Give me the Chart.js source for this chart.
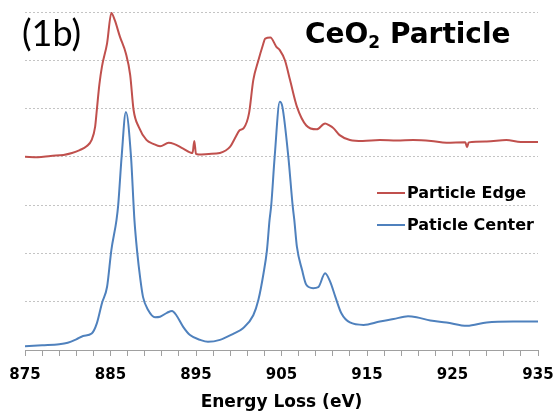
<!DOCTYPE html>
<html>
<head>
<meta charset="utf-8">
<script src="https://cdn.jsdelivr.net/npm/chart.js@4.4.1/dist/chart.umd.min.js"></script>
<style>
  body { margin: 0; background: #fff; }
  #wrap { width: 559px; height: 412px; position: relative; }
</style>
</head>
<body>
<div id="wrap"><canvas id="eels"></canvas></div>
<script>
// energy loss (eV) and intensity (in grid units)
const edgeEnergy = [875, 876.5, 878, 879.5, 880.5, 881.4, 882.2, 882.8, 883.2, 883.4,
  883.7, 884.0, 884.6, 885.1, 885.5, 886.1, 886.8, 887.3, 887.7, 888.3,
  889.2, 890.0, 890.8, 891.8, 892.4, 893.5, 894.6, 894.8, 895.0, 895.3,
  896.5, 897.8, 899.0, 899.6, 900.1, 900.6, 901.2, 901.7, 902.3, 902.8,
  903.1, 903.7, 904.4, 904.8, 905.4, 906.0, 906.8, 907.9, 909.1, 910.1,
  910.6, 911.1, 911.8, 913.0, 914.5, 916.5, 918.5, 920.4, 922.5, 924.3,
  926.5, 926.7, 926.9, 929.0, 931.3, 933.0, 935]
const edgeIntensity = [4.00, 3.99, 4.02, 4.04, 4.08, 4.14, 4.22, 4.35, 4.62, 4.97,
  5.50, 5.87, 6.35, 6.98, 6.83, 6.49, 6.14, 5.70, 4.97, 4.62,
  4.35, 4.27, 4.22, 4.29, 4.27, 4.17, 4.08, 4.33, 4.06, 4.05,
  4.06, 4.08, 4.21, 4.40, 4.55, 4.60, 4.90, 5.59, 6.00, 6.30,
  6.45, 6.47, 6.28, 6.21, 6.00, 5.59, 5.04, 4.65, 4.57, 4.69,
  4.65, 4.59, 4.45, 4.35, 4.33, 4.35, 4.34, 4.35, 4.33, 4.29,
  4.30, 4.20, 4.30, 4.32, 4.35, 4.31, 4.31]

const centerEnergy = [875, 877, 879, 880, 881, 881.8, 882.8, 883.4, 884.0, 884.6,
  885.1, 885.7, 885.9, 886.3, 886.8, 887.4, 887.7, 887.8, 888.1, 888.5,
  888.8, 889.4, 890.2, 890.8, 891.6, 892.2, 892.7, 893.5, 894.3, 895.5,
  896.4, 897.8, 899.4, 900.5, 901.7, 902.3, 902.9, 903.3, 903.6, 903.8,
  904.2, 904.8, 905.1, 905.8, 906.3, 906.5, 906.8, 907.4, 907.9, 908.7,
  909.3, 910.1, 910.7, 911.3, 912.0, 913.0, 914.6, 916.5, 918.1, 919.8,
  920.8, 922.4, 924.3, 926.7, 929.0, 932.1, 935]
const centerIntensity = [0.08, 0.10, 0.12, 0.15, 0.22, 0.29, 0.34, 0.55, 0.97, 1.31,
  2.07, 2.69, 3.00, 4.00, 4.93, 4.00, 3.00, 2.69, 2.07, 1.45,
  1.10, 0.83, 0.68, 0.69, 0.77, 0.81, 0.72, 0.48, 0.31, 0.21,
  0.17, 0.21, 0.34, 0.45, 0.72, 1.04, 1.59, 2.07, 2.69, 3.00,
  4.00, 5.14, 5.04, 4.00, 3.00, 2.69, 2.14, 1.66, 1.35, 1.28,
  1.30, 1.59, 1.41, 1.10, 0.76, 0.57, 0.52, 0.59, 0.64, 0.70,
  0.68, 0.61, 0.57, 0.50, 0.57, 0.59, 0.59]

const xTickLabels = [875, 885, 895, 905, 915, 925, 935]
const seriesNames = ["Particle Edge", "Paticle Center"]
const seriesColors = ["#c0504d", "#4f81bd"]

const boldFont = "DejaVu Sans"

// panel tag, title and the legend drawn inside the plot
const overlayText = {
  id: 'overlayText',
  afterDraw(chart) {
    const ctx = chart.ctx
    ctx.save()
    ctx.fillStyle = '#000'
    ctx.textBaseline = 'alphabetic'
    ctx.font = '36px Lato'
    ctx.fillText('(1b)', 22, 46)

    let x = 305
    ctx.font = 'bold 28px "' + boldFont + '"'
    ctx.fillText('CeO', x, 43)
    x += ctx.measureText('CeO').width
    ctx.font = 'bold 17px "' + boldFont + '"'
    ctx.fillText('2', x, 48)
    x += ctx.measureText('2').width
    ctx.font = 'bold 28px "' + boldFont + '"'
    ctx.fillText(' Particle', x, 43)

    ctx.font = 'bold 16px "' + boldFont + '"'
    ctx.textBaseline = 'middle'
    chart.data.datasets.forEach((ds, i) => {
      const y = 193 + i * 32
      ctx.strokeStyle = ds.borderColor
      ctx.lineWidth = 2
      ctx.beginPath()
      ctx.moveTo(377, y)
      ctx.lineTo(405, y)
      ctx.stroke()
      ctx.fillText(ds.label, 407, y + 1)
    })
    ctx.restore()
  }
}

function drawSpectra() {
  const toPoints = (xs, ys) => xs.map((e, i) => ({ x: e, y: ys[i] }))

  new Chart(document.getElementById('eels'), {
    type: 'line',
    data: {
      datasets: [
        { label: seriesNames[0], data: toPoints(edgeEnergy, edgeIntensity), borderColor: seriesColors[0] },
        { label: seriesNames[1], data: toPoints(centerEnergy, centerIntensity), borderColor: seriesColors[1] }
      ]
    },
    options: {
      responsive: true,
      maintainAspectRatio: false,
      animation: false,
      layout: { padding: { left: 25, right: 21, top: 12, bottom: 0 } },
      plugins: { legend: { display: false }, tooltip: { enabled: false } },
      elements: {
        point: { radius: 0 },
        line: { borderWidth: 2, fill: false, cubicInterpolationMode: 'monotone' }
      },
      scales: {
        x: {
          type: 'linear',
          min: 875,
          max: 935,
          // end labels fit inside the layout padding, so don't let them push the plot in
          afterFit: scale => { scale.paddingLeft = 0; scale.paddingRight = 0 },
          ticks: {
            stepSize: 2,
            autoSkip: false,
            maxRotation: 0,
            padding: 10,
            color: '#000',
            font: { family: boldFont, weight: 'bold', size: 15 },
            callback: v => xTickLabels.includes(v) ? String(v) : ''
          },
          grid: { drawOnChartArea: false, drawTicks: true, tickLength: 6, color: '#a0a0a0' },
          border: { display: true, color: '#a0a0a0', width: 1 },
          title: {
            display: true,
            text: 'Energy Loss (eV)',
            color: '#000',
            font: { family: boldFont, weight: 'bold', size: 17, lineHeight: 1 },
            padding: { top: 0, bottom: 1 }
          }
        },
        y: {
          min: 0,
          max: 7,
          ticks: { display: false, stepSize: 1 },
          grid: { drawTicks: false, color: '#c4c4c4' },
          border: { display: false, dash: [2, 2] }
        }
      }
    },
    plugins: [overlayText]
  })
}

window.addEventListener('load', drawSpectra)
</script>
</body>
</html>
